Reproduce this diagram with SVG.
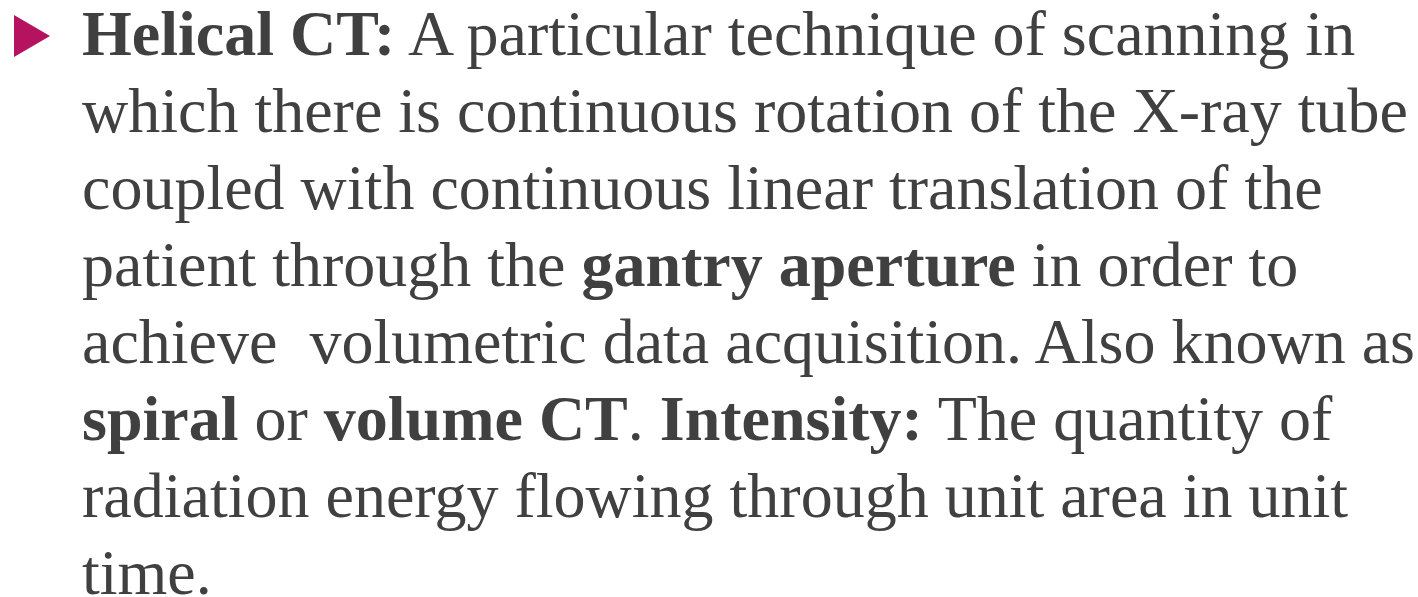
<svg xmlns="http://www.w3.org/2000/svg" width="1418" height="597" viewBox="0 0 1418 597">
<style>
.t{font-family:"Liberation Serif","Times New Roman",serif;font-size:64px;fill:#404040}
.b{font-weight:bold}
</style>
<rect width="1418" height="597" fill="#ffffff"/>
<g id="bullet"><polygon points="14,15 50,36 14,57" fill="#B5135F"/></g>
<g id="body" class="t">
<text x="82" y="55"><tspan class="b">Helical CT:</tspan> A particular technique of scanning in</text>
<text x="82" y="132">which there is continuous rotation of the X-ray tube</text>
<text x="82" y="209">coupled with continuous linear translation of the</text>
<text x="82" y="286">patient through the <tspan class="b">gantry aperture</tspan> in order to</text>
<text x="82" y="363" xml:space="preserve">achieve  volumetric data acquisition. Also known as</text>
<text x="82" y="440"><tspan class="b">spiral</tspan> or <tspan class="b">volume CT</tspan>. <tspan class="b">Intensity:</tspan> The quantity of</text>
<text x="82" y="517">radiation energy flowing through unit area in unit</text>
<text x="82" y="594">time.</text>
</g>
</svg>
